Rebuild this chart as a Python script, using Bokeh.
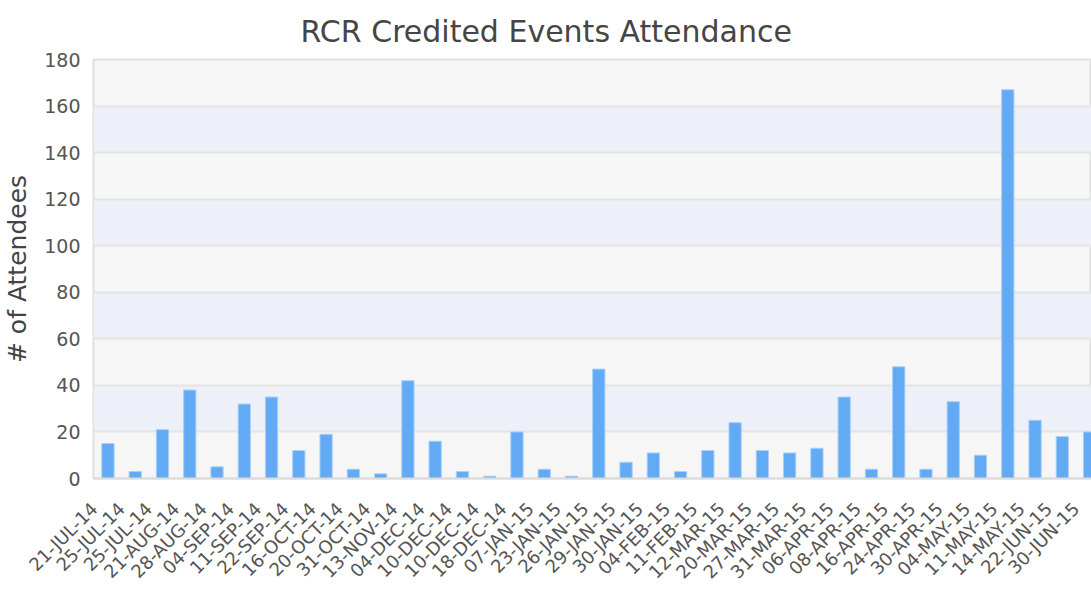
import math
from bokeh.plotting import figure
from bokeh.models import Range1d, FixedTicker, CustomJSTickFormatter, ColumnDataSource
from bokeh.embed import file_html
from bokeh.resources import INLINE

# ---- data ----
event_dates = [
    "21-JUL-14", "25-JUL-14", "25-JUL-14", "21-AUG-14", "28-AUG-14", "04-SEP-14",
    "11-SEP-14", "22-SEP-14", "16-OCT-14", "20-OCT-14", "31-OCT-14", "13-NOV-14",
    "04-DEC-14", "10-DEC-14", "10-DEC-14", "18-DEC-14", "07-JAN-15", "23-JAN-15",
    "26-JAN-15", "29-JAN-15", "30-JAN-15", "04-FEB-15", "11-FEB-15", "12-MAR-15",
    "20-MAR-15", "27-MAR-15", "31-MAR-15", "06-APR-15", "08-APR-15", "16-APR-15",
    "24-APR-15", "30-APR-15", "04-MAY-15", "11-MAY-15", "14-MAY-15", "22-JUN-15",
    "30-JUN-15",
]
attendees = [
    15, 3, 21, 38, 5, 32,
    35, 12, 19, 4, 2, 42,
    16, 3, 1, 20, 4, 1,
    47, 7, 11, 3, 12, 24,
    12, 11, 13, 35, 4, 48,
    4, 33, 10, 167, 25, 18,
    20,
]
y_ticks = [0, 20, 40, 60, 80, 100, 120, 140, 160, 180]

FONT = "DejaVu Sans"
LABEL_SHIFT = 0.5  # rotated date labels sit a little left of their bar

idx = list(range(len(event_dates)))
src = ColumnDataSource(dict(x=idx, top=attendees, label=event_dates))

p = figure(
    width=1091, height=592,
    output_backend="svg", toolbar_location=None,
    x_range=Range1d(-0.53, 36.07), y_range=Range1d(0, 180),
    min_border_left=92, min_border_right=0, min_border_top=59, min_border_bottom=112,
)

p.vbar(x="x", top="top", width=0.45, source=src,
       fill_color="#62aaf4", line_color="#a8d0f8", line_width=1)

# title
p.title.text = "RCR Credited Events Attendance"
p.title.align = "left"
p.title.offset = 207
p.title.standoff = 21
p.title.text_line_height = 0.7
p.title.text_font = FONT
p.title.text_font_size = "30px"
p.title.text_font_style = "normal"
p.title.text_color = "#454545"

# frame
p.background_fill_color = "#f6f6f6"
p.border_fill_color = "white"
p.outline_line_color = "#e0e0e0"
p.outline_line_width = 2

# y axis
yt = FixedTicker(ticks=y_ticks)
p.yaxis.ticker = yt
p.yaxis.axis_line_color = None
p.yaxis.major_tick_line_color = None
p.yaxis.minor_tick_line_color = None
p.yaxis.major_tick_out = 0
p.yaxis.major_tick_in = 0
p.yaxis.minor_tick_out = 0
p.yaxis.major_label_text_font = FONT
p.yaxis.major_label_text_font_size = "19px"
p.yaxis.major_label_text_color = "#555555"
p.yaxis.major_label_standoff = 13
p.yaxis.axis_label = "# of Attendees"
p.yaxis.axis_label_text_font = FONT
p.yaxis.axis_label_text_font_size = "25px"
p.yaxis.axis_label_text_font_style = "normal"
p.yaxis.axis_label_text_color = "#444444"
p.yaxis.axis_label_standoff = 9

# grid
p.xgrid.grid_line_color = None
p.ygrid.ticker = yt
p.ygrid.grid_line_color = "#e4e4e4"
p.ygrid.grid_line_width = 2
p.ygrid.band_fill_color = "#edf0f8"
p.ygrid.band_fill_alpha = 1.0

# x axis with rotated date labels
p.xaxis.ticker = FixedTicker(ticks=[i - LABEL_SHIFT for i in idx])
p.xaxis.formatter = CustomJSTickFormatter(
    args=dict(labels=event_dates, shift=LABEL_SHIFT),
    code="const i = Math.round(tick + shift); return labels[i] || '';",
)
p.xaxis.axis_line_color = "#dcdcdc"
p.xaxis.axis_line_width = 2
p.xaxis.major_tick_line_color = None
p.xaxis.minor_tick_line_color = None
p.xaxis.major_tick_out = 0
p.xaxis.major_tick_in = 0
p.xaxis.minor_tick_out = 0
p.xaxis.major_label_orientation = math.pi / 4
p.xaxis.major_label_text_font = FONT
p.xaxis.major_label_text_font_size = "18px"
p.xaxis.major_label_text_color = "#555555"
p.xaxis.major_label_standoff = 27

open("out.html", "w").write(file_html(p, INLINE))
